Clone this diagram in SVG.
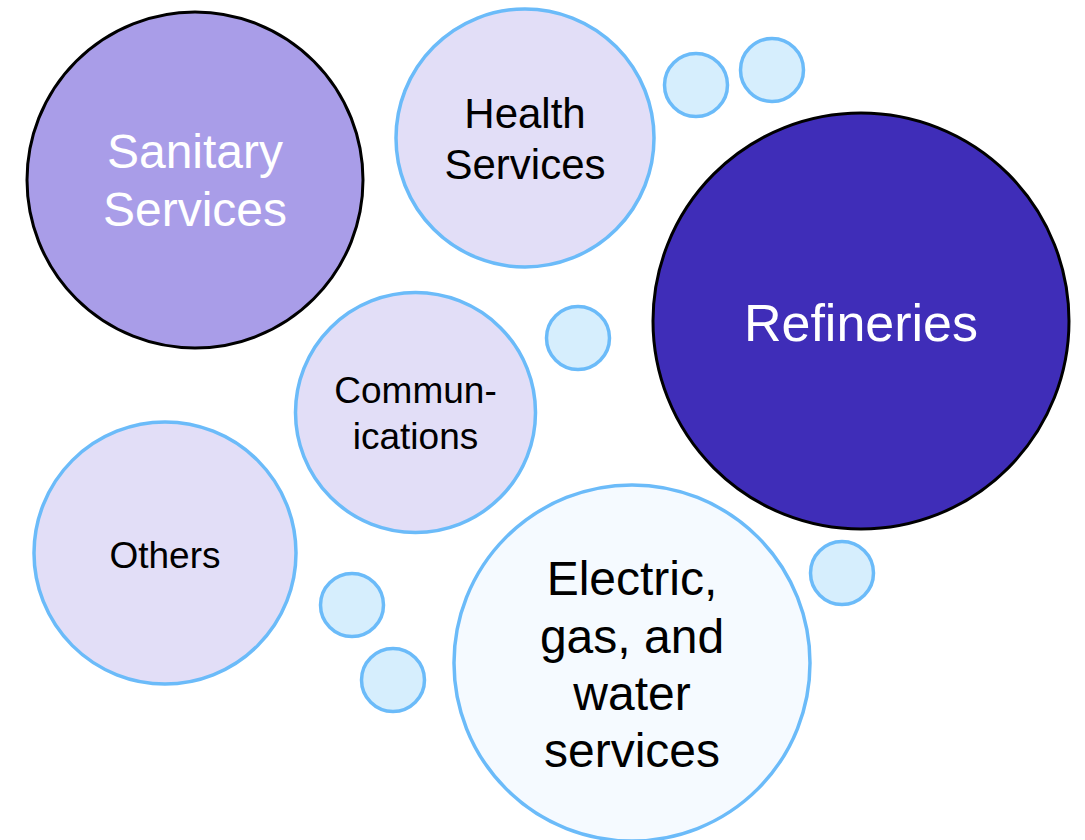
<svg xmlns="http://www.w3.org/2000/svg" width="1085" height="840" viewBox="0 0 1085 840">
<style>
text{font-family:"Liberation Sans",Arial,sans-serif;text-anchor:middle}
.dark{stroke:#000;stroke-width:3}
.blue{stroke:#6BBBF9;stroke-width:3.5}
.lav{fill:#E2DEF7}
.dot{fill:#D6EEFD}
.w{fill:#fff}
.k{fill:#000}
</style>
<rect width="1085" height="840" fill="#fff"/>
<g id="connectors"></g>
<g id="sanitary">
<circle cx="195" cy="180" r="168" fill="#A99DE8" class="dark"/>
<text x="195" y="168" font-size="48" class="w">Sanitary</text>
<text x="195" y="226" font-size="48" class="w">Services</text>
</g>
<g id="health">
<circle cx="525" cy="138" r="129" class="lav blue"/>
<text x="525" y="128" font-size="42" class="k">Health</text>
<text x="525" y="179" font-size="42" class="k">Services</text>
</g>
<g id="refineries">
<circle cx="861" cy="321" r="208" fill="#3F2DB8" class="dark"/>
<text x="861" y="341" font-size="52" class="w">Refineries</text>
</g>
<g id="communications">
<circle cx="415.5" cy="412.5" r="120" class="lav blue"/>
<text x="415.5" y="403" font-size="37" class="k">Commun-</text>
<text x="415.5" y="449" font-size="37" class="k">ications</text>
</g>
<g id="others">
<circle cx="165" cy="553" r="131" class="lav blue"/>
<text x="165" y="568" font-size="37" class="k">Others</text>
</g>
<g id="electric">
<circle cx="632" cy="663" r="178" fill="#F5FAFF" class="blue"/>
<text x="632" y="595" font-size="48" class="k">Electric,</text>
<text x="632" y="653" font-size="48" class="k">gas, and</text>
<text x="632" y="710" font-size="48" class="k">water</text>
<text x="632" y="767" font-size="48" class="k">services</text>
</g>
<g id="dots">
<circle cx="696" cy="85" r="31.5" class="dot blue"/>
<circle cx="772" cy="70" r="31.5" class="dot blue"/>
<circle cx="578" cy="338" r="31.5" class="dot blue"/>
<circle cx="842" cy="573" r="31.5" class="dot blue"/>
<circle cx="352" cy="605" r="31.5" class="dot blue"/>
<circle cx="393" cy="680" r="31.5" class="dot blue"/>
</g>
</svg>
